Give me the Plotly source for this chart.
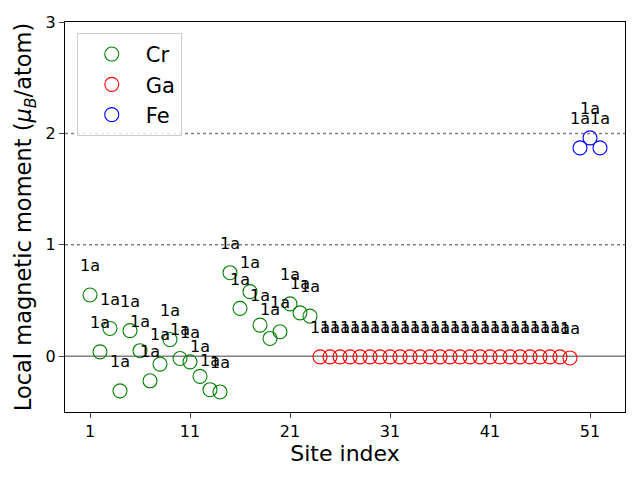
import plotly.graph_objects as go

cr_sites = list(range(1, 24))
cr_values = [0.55, 0.04, 0.25, -0.31, 0.23, 0.05, -0.22, -0.07, 0.15, -0.02, -0.05,
             -0.18, -0.30, -0.32, 0.75, 0.43, 0.58, 0.28, 0.16, 0.22, 0.47, 0.39, 0.36]
ga_sites = list(range(24, 50))
ga_values = [-0.005] * 25 + [-0.015]
fe_sites = [50, 51, 52]
fe_values = [1.87, 1.96, 1.87]
site_label = "1a"
x_ticks = [1, 11, 21, 31, 41, 51]
y_ticks = [0, 1, 2, 3]
label_offset = 0.25

font = "DejaVu Sans"
fig = go.Figure()

# reference lines
fig.add_hline(y=0, line=dict(color="gray", width=1.5), layer="below")
for yv in (1, 2):
    fig.add_hline(y=yv, line=dict(color="gray", width=1.5, dash="dot"), layer="below")

series = [("Cr", cr_sites, cr_values, "green"),
          ("Ga", ga_sites, ga_values, "red"),
          ("Fe", fe_sites, fe_values, "blue")]

for name, xs, ys, col in series:
    fig.add_trace(go.Scatter(
        x=xs, y=ys, mode="markers", name=name,
        marker=dict(symbol="circle-open", size=14, color=col, line=dict(width=1.1, color=col)),
    ))

for name, xs, ys, col in series:
    fig.add_trace(go.Scatter(
        x=xs, y=[v + label_offset for v in ys], mode="text",
        text=[site_label] * len(xs), textposition="middle center",
        textfont=dict(family=font, size=16, color="black"),
        showlegend=False, hoverinfo="skip",
    ))

# the page places the figure 8px from the window's top-left corner
fig.update_layout(
    width=632, height=472,
    margin=dict(l=57, r=15, t=14, b=68, autoexpand=False),
    paper_bgcolor="white", plot_bgcolor="white",
    font=dict(family=font, color="black"),
    legend=dict(x=0.021, y=0.972, xanchor="left", yanchor="top",
                bgcolor="rgba(255,255,255,0.8)", bordercolor="#cccccc", borderwidth=1,
                font=dict(size=21, family=font), itemwidth=58, tracegroupgap=0),
    xaxis=dict(range=[-1.5, 54.5], tickvals=x_ticks, ticks="outside", ticklen=5,
               showline=True, linecolor="black", linewidth=1.2, mirror=True,
               showgrid=False, zeroline=False, tickfont=dict(size=16), automargin=False,
               title=dict(text="Site index", font=dict(size=22), standoff=2)),
    yaxis=dict(range=[-0.5, 3], tickvals=y_ticks, ticks="outside", ticklen=5,
               showline=True, linecolor="black", linewidth=1.2, mirror=True,
               showgrid=False, zeroline=False, tickfont=dict(size=16), automargin=False,
               title=dict(text="Local magnetic moment (<i>μ</i><sub><i>B</i></sub>/atom)",
                          font=dict(size=22.5), standoff=7)),
)

fig.write_html("out.html")
